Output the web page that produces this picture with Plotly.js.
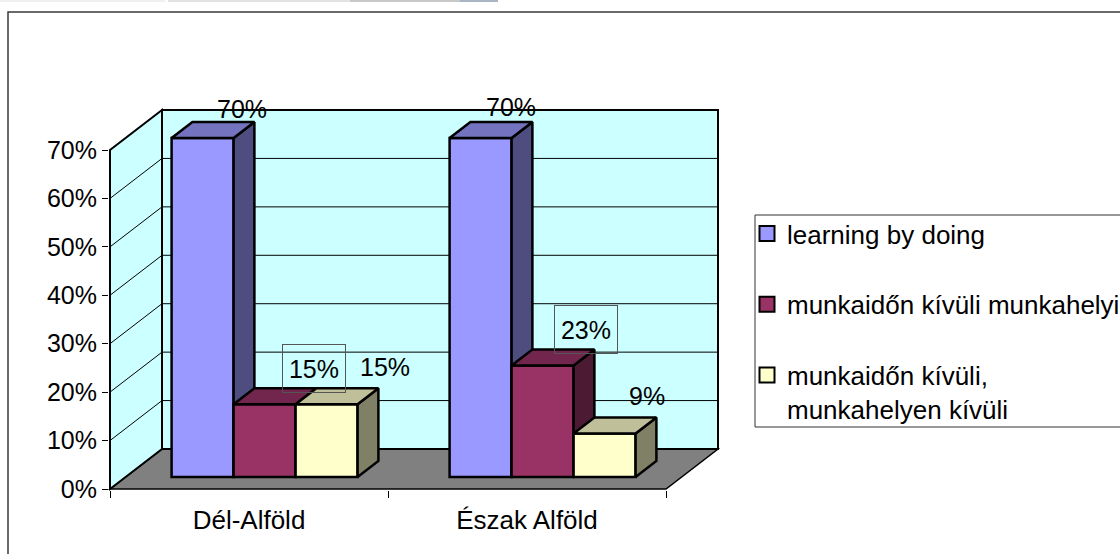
<!DOCTYPE html>
<html>
<head>
<meta charset="utf-8">
<script src="https://cdn.plot.ly/plotly-3.0.1.min.js"></script>
<style>html,body{margin:0;padding:0;background:#fff;}#chart{width:1120px;height:554px;}</style>
</head>
<body>
<div id="chart"></div>
<script>
// ---------------- data ----------------
const categories = ['Dél-Alföld', 'Észak Alföld'];
const seriesNames = ['learning by doing', 'munkaidőn kívüli munkahelyi', 'munkaidőn kívüli,<br>munkahelyen kívüli'];
const learningByDoing = [70, 70];
const kivuliMunkahelyi = [15, 23];
const kivuliKivuli = [15, 9];
const yTickVals = [0, 10, 20, 30, 40, 50, 60, 70];
const yTickText = ['0%', '10%', '20%', '30%', '40%', '50%', '60%', '70%'];

// ---------------- styles / layout geometry ----------------
const seriesFront = ['#9999FF', '#993366', '#FFFFCC'];
const seriesTop   = ['#7373BF', '#73264D', '#BFBF99'];
const seriesSide  = ['#4D4D80', '#4D1A33', '#808066'];
const labelShift = [ [[39, 29.5], [30, 31]], [[49.5, 36], [43, 36.6]], [[58.5, 37.4], [42.5, 37.4]] ];
const labelBoxed = [ [false, false], [true, true], [false, false] ];

const W = 1120, H = 554;
const G = { frontX: 110, frontY: 489, topY: 150, catW: 278, depthX: 52, depthY: 40,
            plotL: 100, plotR: 730, plotT: 90, plotB: 500, barFrac: 62 / 278, d0: 0.3, d1: 0.7 };
const FONT = 'Liberation Sans, Arial, sans-serif';

const yMax = yTickVals[yTickVals.length - 1];
const nCat = categories.length;
const K = (G.frontY - G.topY) / yMax;           // px per percent
const DXu = G.depthX / G.catW;                  // depth offset in x units
const DYu = G.depthY / K;                       // depth offset in y units
const gapFrac = (1 - 3 * G.barFrac) / 2;
const seriesVals = [learningByDoing, kivuliMunkahelyi, kivuliKivuli];

const traces = [];
const legendTraces = [];
const annotations = [];
const base = G.d0 * DYu;
const dd = G.d1 - G.d0;

seriesVals.forEach((vals, s) => {
  const xl = categories.map((_, c) => c + gapFrac + s * G.barFrac + G.d0 * DXu);
  // front faces
  traces.push({
    type: 'bar', name: seriesNames[s], showlegend: false,
    x: xl.map(v => v + G.barFrac / 2), y: vals, base: base, width: G.barFrac,
    marker: { color: seriesFront[s], line: { color: '#000', width: 2.5 } },
    zorder: s, hoverinfo: 'skip'
  });
  // side & top faces
  const sx = [], sy = [], tx = [], ty = [];
  vals.forEach((v, c) => {
    const xr = xl[c] + G.barFrac;
    const ox = dd * DXu, oy = dd * DYu;
    sx.push(xr, xr + ox, xr + ox, xr, xr, null);
    sy.push(base, base + oy, base + oy + v, base + v, base, null);
    tx.push(xl[c], xr, xr + ox, xl[c] + ox, xl[c], null);
    ty.push(base + v, base + v, base + v + oy, base + v + oy, base + v, null);
    const sh = labelShift[s][c];
    const ann = {
      xref: 'x', yref: 'y', x: xl[c] + G.barFrac / 2, y: base + v,
      xshift: sh[0], yshift: sh[1], text: v + '%', showarrow: false,
      xanchor: 'center', yanchor: 'middle',
      font: { family: FONT, size: 25, color: '#000' }
    };
    if (labelBoxed[s][c]) {
      Object.assign(ann, { bordercolor: '#555', borderwidth: 1, borderpad: 6, width: 50, height: 35 });
    }
    annotations.push(ann);
  });
  traces.push({ type: 'scatter', mode: 'lines', x: sx, y: sy, fill: 'toself', fillcolor: seriesSide[s],
    line: { color: '#000', width: 2.5 }, showlegend: false, hoverinfo: 'skip', zorder: s });
  traces.push({ type: 'scatter', mode: 'lines', x: tx, y: ty, fill: 'toself', fillcolor: seriesTop[s],
    line: { color: '#000', width: 2.5 }, showlegend: false, hoverinfo: 'skip', zorder: s });
  // legend entry (square key like the original)
  legendTraces.push({ type: 'scatter', mode: 'markers', x: [null], y: [null], name: seriesNames[s],
    legendgroup: 'g' + s, marker: { symbol: 'square', size: 15, color: seriesFront[s], line: { color: '#000', width: 2 } },
    hoverinfo: 'skip' });
});
traces.push(...legendTraces);
// dummy trace to create the labelled-axes subplot
traces.push({ type: 'scatter', x: [], y: [], xaxis: 'x2', yaxis: 'y2', showlegend: false, hoverinfo: 'skip' });

// ---------------- walls, floor, gridlines ----------------
const shapes = [];
const wallFill = '#CCFFFF';
shapes.push({ type: 'path', xref: 'x', yref: 'y', layer: 'below',
  path: `M0,0 L${nCat},0 L${nCat + DXu},${DYu} L${DXu},${DYu} Z`,
  fillcolor: '#808080', line: { color: '#000', width: 1.5 } });
shapes.push({ type: 'path', xref: 'x', yref: 'y', layer: 'below',
  path: `M0,0 L0,${yMax} L${DXu},${yMax + DYu} L${DXu},${DYu} Z`,
  fillcolor: wallFill, line: { color: '#000', width: 2 } });
shapes.push({ type: 'rect', xref: 'x', yref: 'y', layer: 'below',
  x0: DXu, y0: DYu, x1: nCat + DXu, y1: yMax + DYu,
  fillcolor: wallFill, line: { color: '#000', width: 2 } });
yTickVals.forEach(v => {
  if (v === 0 || v === yMax) return;
  shapes.push({ type: 'line', xref: 'x', yref: 'y', layer: 'below', x0: 0, y0: v, x1: DXu, y1: v + DYu,
    line: { color: '#000', width: 1 } });
  shapes.push({ type: 'line', xref: 'x', yref: 'y', layer: 'below', x0: DXu, y0: v + DYu, x1: nCat + DXu, y1: v + DYu,
    line: { color: '#000', width: 1 } });
});
// outer chart frame
shapes.push({ type: 'rect', xref: 'paper', yref: 'paper', x0: 8 / W, x1: 1.05, y0: -0.05, y1: (H - 12) / H,
  line: { color: '#3a3a3a', width: 1.5 }, fillcolor: 'rgba(0,0,0,0)' });
// legend frame
shapes.push({ type: 'rect', xref: 'paper', yref: 'paper', x0: 755 / W, x1: 1.05, y0: (H - 427) / H, y1: (H - 215) / H,
  line: { color: '#333', width: 1 }, fillcolor: '#fff', layer: 'below' });
// thin screenshot strip at the very top
[[0, 165, '#f0f0f0'], [168, 350, '#e2e2e2'], [350, 460, '#c8c8c8'], [460, 498, '#a8b6c4']].forEach(r => {
  shapes.push({ type: 'rect', xref: 'paper', yref: 'paper', x0: r[0] / W, x1: r[1] / W, y0: (H - 2) / H, y1: 1,
    line: { width: 0 }, fillcolor: r[2] });
});

const layout = {
  width: W, height: H,
  margin: { l: 0, r: 0, t: 0, b: 0, autoexpand: false },
  paper_bgcolor: '#fff', plot_bgcolor: 'rgba(0,0,0,0)',
  barmode: 'overlay', hovermode: false,
  font: { family: FONT, size: 25, color: '#000' },
  xaxis: { visible: false, domain: [G.plotL / W, G.plotR / W], fixedrange: true,
    range: [(G.plotL - G.frontX) / G.catW, (G.plotR - G.frontX) / G.catW] },
  yaxis: { visible: false, domain: [(H - G.plotB) / H, (H - G.plotT) / H], fixedrange: true,
    range: [-(G.plotB - G.frontY) / K, (G.frontY - G.plotT) / K] },
  xaxis2: { anchor: 'y2', domain: [G.frontX / W, (G.frontX + nCat * G.catW) / W], range: [0, nCat],
    fixedrange: true, showline: true, linecolor: '#000', linewidth: 2, showgrid: false, zeroline: false,
    tickmode: 'array', tickvals: categories.map((_, i) => i + 0.5), ticktext: categories, ticks: '',
    ticklabelstandoff: 7,
    minor: { tickmode: 'array', tickvals: categories.map((_, i) => i).concat([nCat]), ticks: 'outside', ticklen: 7, tickwidth: 1, tickcolor: '#000' },
    tickfont: { family: FONT, size: 26, color: '#000' } },
  yaxis2: { anchor: 'x2', domain: [(H - G.frontY) / H, (H - G.topY) / H], range: [0, yMax],
    fixedrange: true, showline: true, linecolor: '#000', linewidth: 2, showgrid: false, zeroline: false,
    tickmode: 'array', tickvals: yTickVals, ticktext: yTickText, ticks: 'outside', ticklen: 6, tickwidth: 1, tickcolor: '#000',
    tickfont: { family: FONT, size: 25, color: '#000' } },
  legend: { x: 747 / W, y: (H - 210) / H, xanchor: 'left', yanchor: 'top', traceorder: 'grouped',
    tracegroupgap: 34, valign: 'top', bgcolor: 'rgba(0,0,0,0)', borderwidth: 0, itemsizing: 'trace',
    font: { family: FONT, size: 26, color: '#000' } },
  shapes: shapes,
  annotations: annotations
};

Plotly.newPlot('chart', traces, layout, { staticPlot: true, displayModeBar: false });
</script>
</body>
</html>
